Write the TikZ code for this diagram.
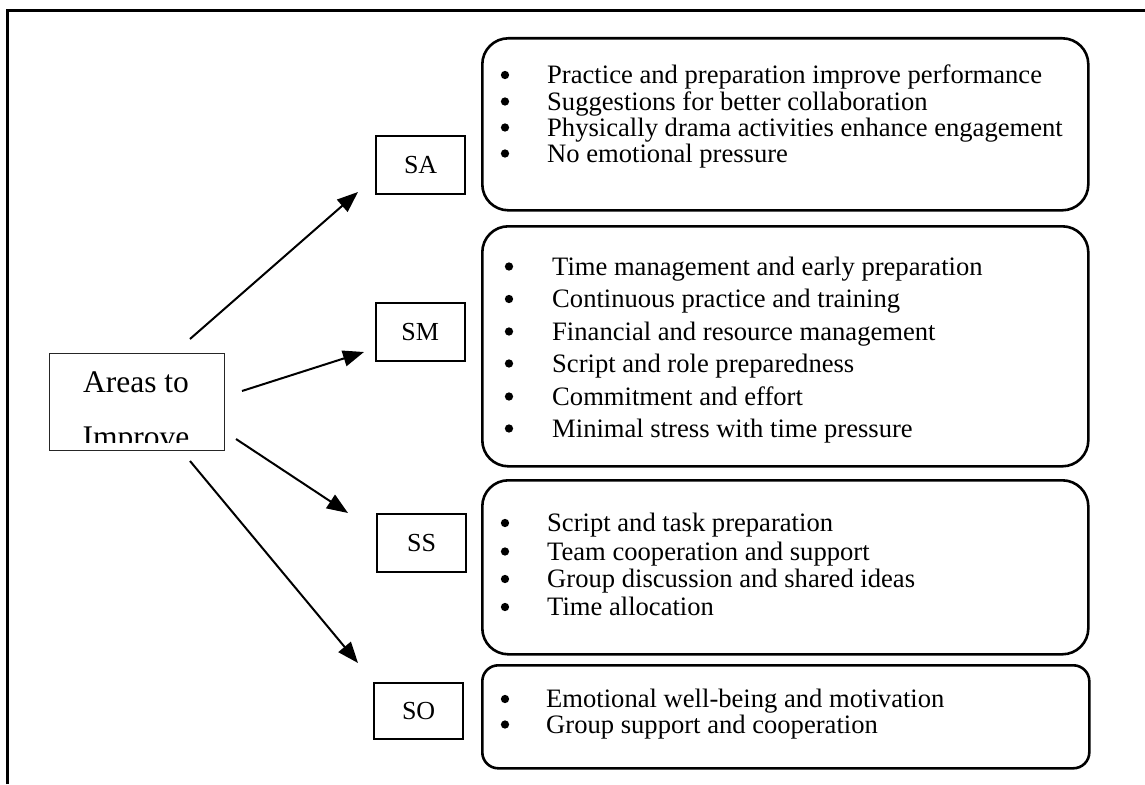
\documentclass[tikz,border=0pt]{standalone}
\usepackage{fontspec}
\setmainfont{Liberation Serif}
\usetikzlibrary{arrows.meta}
\begin{document}
\begin{tikzpicture}[x=1pt,y=-1pt,
  frame/.style={line width=2.7pt},
  listbox/.style={draw, line width=2.6pt, rounded corners=26pt, inner sep=0pt, anchor=north west},
  smallbox/.style={draw, line width=2.6pt, rounded corners=16pt, inner sep=0pt, anchor=north west},
  tagbox/.style={draw, line width=2.3pt, inner sep=0pt, anchor=north west, minimum width=89pt, minimum height=58pt,
    font=\fontsize{26}{30}\selectfont},
  areabox/.style={draw=black!85, line width=1.6pt, inner sep=0pt, anchor=north west},
  areatext/.style={anchor=base, inner sep=0pt, font=\fontsize{31.5}{36}\selectfont},
  bul/.style={circle, fill, inner sep=0pt, minimum size=8.3pt},
  item/.style={anchor=base west, inner sep=0pt, font=\fontsize{26.6}{30}\selectfont},
  arr/.style={line width=2pt, -{Triangle[length=21pt,width=16pt]}}
]
\useasboundingbox (0,0) rectangle (1145,784);
% outer frame (only left and top edges visible)
\draw[frame] (7.3,784) -- (7.3,10.3) -- (1145,10.3);

% source box
\node[areabox, minimum width=175pt, minimum height=97pt] (areas) at (48.5,352.5) {};
\begin{scope}
  \clip (50,354) rectangle (222,442);
  \node[areatext] (areasL1) at (136,392) {Areas to};
  \node[areatext] (areasL2) at (136,447.5) {Improve};
\end{scope}

% tag boxes
\node[tagbox] (SA) at (375,135) {SA};
\node[tagbox] (SM) at (374.5,302) {SM};
\node[tagbox] (SS) at (376,512.5) {SS};
\node[tagbox, minimum height=56pt] (SO) at (373,682) {SO};

% list boxes
\node[listbox, minimum width=606pt, minimum height=172pt] (boxA) at (481,37) {};
\node[listbox, minimum width=606pt, minimum height=240pt] (boxM) at (481,225) {};
\node[listbox, minimum width=606pt, minimum height=174pt] (boxS) at (481,479) {};
\node[smallbox, minimum width=607pt, minimum height=103pt] (boxO) at (481,664) {};

% list texts
\foreach \yy/\tx [count=\i] in {83.5/Practice and preparation improve performance,
  110/Suggestions for better collaboration,
  136/Physically drama activities enhance engagement,
  162/No emotional pressure}{
  \node[bul] (Ab\i) at (505,\yy-8.5) {};
  \node[item] (At\i) at (547,\yy) {\tx};
}
\foreach \yy/\tx [count=\i] in {275/Time management and early preparation,
  307.5/Continuous practice and training,
  340/Financial and resource management,
  372/Script and role preparedness,
  405/Commitment and effort,
  437/Minimal stress with time pressure}{
  \node[bul] (Mb\i) at (509,\yy-8.5) {};
  \node[item] (Mt\i) at (552,\yy) {\tx};
}
\foreach \yy/\tx [count=\i] in {531.5/Script and task preparation,
  560/Team cooperation and support,
  587.5/Group discussion and shared ideas,
  615.5/Time allocation}{
  \node[bul] (Sb\i) at (505,\yy-8.5) {};
  \node[item] (St\i) at (547,\yy) {\tx};
}
\foreach \yy/\tx [count=\i] in {707.5/Emotional well-being and motivation,
  733/Group support and cooperation}{
  \node[bul] (Ob\i) at (505,\yy-8.5) {};
  \node[item] (Ot\i) at (546,\yy) {\tx};
}

% arrows
\coordinate (sA0) at (190,339); \coordinate (sA1) at (358,192);
\coordinate (sM0) at (242,391); \coordinate (sM1) at (364,352);
\coordinate (sS0) at (236,439); \coordinate (sS1) at (348,513);
\coordinate (sO0) at (190,461); \coordinate (sO1) at (358,663);
\draw[arr] (sA0) -- (sA1);
\draw[arr] (sM0) -- (sM1);
\draw[arr] (sS0) -- (sS1);
\draw[arr] (sO0) -- (sO1);
\end{tikzpicture}
\end{document}
